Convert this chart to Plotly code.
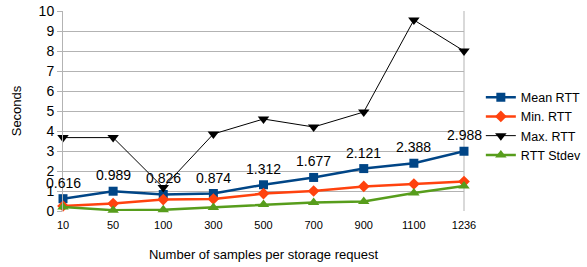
import plotly.graph_objects as go

categories = ["10", "50", "100", "300", "500", "700", "900", "1100", "1236"]
mean_rtt = [0.616, 0.989, 0.826, 0.874, 1.312, 1.677, 2.121, 2.388, 2.988]
min_rtt = [0.25, 0.37, 0.57, 0.6, 0.87, 1.0, 1.23, 1.35, 1.47]
max_rtt = [3.67, 3.67, 1.17, 3.85, 4.6, 4.2, 4.95, 9.55, 8.0]
std_rtt = [0.2, 0.04, 0.06, 0.18, 0.33, 0.43, 0.47, 0.9, 1.25]
mean_labels = [f"{v:.3f}" for v in mean_rtt]

FONT = "Liberation Sans, Arial, sans-serif"

fig = go.Figure()
fig.add_trace(go.Scatter(x=categories, y=mean_rtt, name="Mean RTT", mode="lines+markers",
                         line=dict(color="#004586", width=2.5),
                         marker=dict(symbol="square", size=9, color="#004586"), cliponaxis=False))
fig.add_trace(go.Scatter(x=categories, y=min_rtt, name="Min. RTT", mode="lines+markers",
                         line=dict(color="#ff420e", width=2.5),
                         marker=dict(symbol="diamond", size=9, color="#ff420e"), cliponaxis=False))
fig.add_trace(go.Scatter(x=categories, y=max_rtt, name="Max. RTT", mode="lines+markers",
                         line=dict(color="#000000", width=1),
                         marker=dict(symbol="triangle-down", size=10, color="#000000"), cliponaxis=False))
fig.add_trace(go.Scatter(x=categories, y=std_rtt, name="RTT Stdev", mode="lines+markers",
                         line=dict(color="#579d1c", width=2.5),
                         marker=dict(symbol="triangle-up", size=10, color="#579d1c"), cliponaxis=False))

# annotations on a category axis use the category index
for i, (v, t) in enumerate(zip(mean_rtt, mean_labels)):
    fig.add_annotation(x=i, y=v, xref="x", yref="y", text=t, showarrow=False, yshift=16,
                       font=dict(size=14, color="#000000", family=FONT))

fig.update_layout(
    width=587, height=267,
    margin=dict(l=63, r=123, t=11, b=56, autoexpand=False),
    paper_bgcolor="white", plot_bgcolor="white",
    font=dict(family=FONT, color="#000000"),
    legend=dict(x=1.042, y=0.425, xanchor="left", yanchor="middle",
                font=dict(size=12.5, family=FONT), itemwidth=30, tracegroupgap=0,
                bgcolor="rgba(0,0,0,0)"),
    xaxis=dict(type="category", range=[0, 8], showgrid=False, automargin=False,
               showline=False, ticks="", tickfont=dict(size=11), ticklabelstandoff=6,
               title=dict(text="Number of samples per storage request", font=dict(size=13), standoff=19),
               zeroline=False, mirror=False),
    yaxis=dict(range=[0, 10], dtick=1, showgrid=True, gridcolor="#b3b3b3", automargin=False,
               showline=True, linecolor="#b3b3b3", ticks="outside", tickcolor="#b3b3b3", ticklen=5,
               tickfont=dict(size=14),
               title=dict(text="Seconds", font=dict(size=13), standoff=14), zeroline=False),
    showlegend=True,
)
fig.add_shape(type="line", xref="paper", yref="paper", x0=1, x1=1, y0=0, y1=1,
              line=dict(color="#b3b3b3", width=1), layer="below")
fig.write_html("out.html", config={"displayModeBar": False},
               post_script="document.body.style.margin='0';")
